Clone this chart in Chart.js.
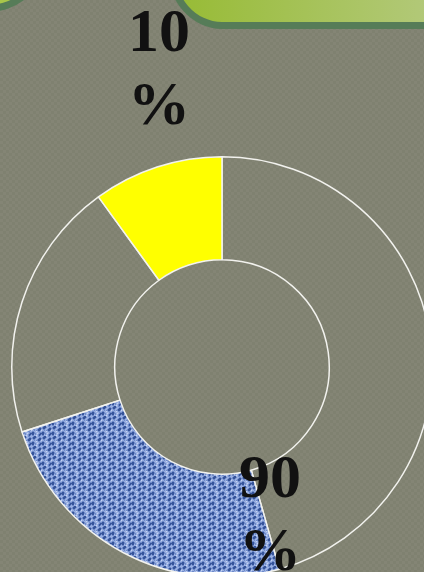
<!DOCTYPE html>
<html>
<head>
<meta charset="utf-8">
<script src="https://cdn.jsdelivr.net/npm/chart.js@4.4.1/dist/chart.umd.min.js"></script>
<style>
html, body { margin: 0; padding: 0; }
body {
    width: 424px; height: 572px; overflow: hidden; position: relative;
    background-color: #7f8170;
    background-image: repeating-conic-gradient(rgba(255,255,255,0.035) 0 25%, transparent 0 50%);
    background-size: 6px 6px;
}
#wrap { position: absolute; left: 11px; top: 156px; width: 422px; height: 422px; }
.lbl {
    position: absolute; width: 90px; text-align: center;
    font-family: 'Liberation Serif', 'DejaVu Serif', serif; font-weight: bold;
    font-size: 62px; line-height: 73px; color: #111;
}
.box {
    position: absolute; left: 167px; top: -50px; width: 300px; height: 65px;
    border: 7px solid #567c58; border-bottom-left-radius: 55px 62px;
    background: linear-gradient(90deg, #97bb34, #b7cb85);
}
.dot {
    position: absolute; left: -70px; top: -88px; width: 100px; height: 86px;
    border: 7px solid #567c58; border-radius: 50%;
    background: #a9c64a;
}
</style>
</head>
<body>
<div class="dot"></div>
<div class="box"></div>
<div id="wrap"><canvas id="donut" width="422" height="422"></canvas></div>
<div class="lbl" id="lblSmall" style="left:114px; top:-6px;"></div>
<div class="lbl" id="lblBig" style="left:225px; top:440px;"></div>

<script>
// shares shown as text
const shareLabels = ['10\n%', '90\n%'];

// ring pieces, clockwise from 12 o'clock (percent of the full ring)
const pieceNames = ['90% (plain)', '90% (texture)', '90% (plain)', '10%'];
const pieceValues = [45.6, 24.4, 20.0, 10.0];

// woven blue cloth, hand-drawn 10x10 tile
function makeWeave() {
    const tile = [
        'LLMDDLLMML',
        'LMDDDMLLMM',
        'MMDDMLLMDD',
        'LLMMLLMDDD',
        'WLLMLMMDDM',
        'LMMLLWLMML',
        'MDDMLLLLMM',
        'DDDMMLWLMD',
        'MDDLMLLMDD',
        'LMMLLWLMDM'
    ];
    const shade = { W: '#c4d2f2', L: '#9ab0e2', M: '#6f8bca', D: '#36549a' };
    const c = document.createElement('canvas');
    c.width = 10; c.height = 10;
    const g = c.getContext('2d');
    tile.forEach((row, y) => {
        [...row].forEach((k, x) => {
            g.fillStyle = shade[k];
            g.fillRect(x, y, 1, 1);
        });
    });
    return g.createPattern(c, 'repeat');
}

document.getElementById('lblSmall').innerText = shareLabels[0];
document.getElementById('lblBig').innerText = shareLabels[1];

const weave = makeWeave();

new Chart(document.getElementById('donut'), {
    type: 'doughnut',
    data: {
        labels: pieceNames,
        datasets: [{
            data: pieceValues,
            backgroundColor: ['rgba(0,0,0,0)', weave, 'rgba(0,0,0,0)', '#ffff00'],
            borderColor: '#f2f2ee',
            borderWidth: 1.5,
            hoverOffset: 0
        }]
    },
    options: {
        responsive: false,
        animation: false,
        cutout: '51%',
        layout: { padding: 0 },
        plugins: {
            legend: { display: false },
            tooltip: { enabled: false }
        }
    }
});
</script>
</body>
</html>
